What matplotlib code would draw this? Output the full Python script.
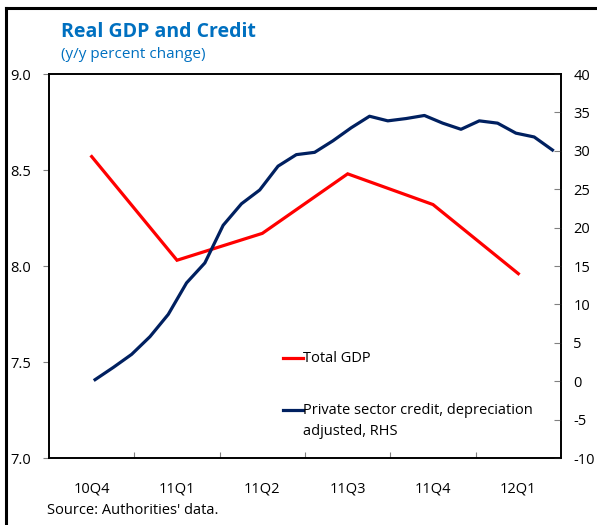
import matplotlib
matplotlib.use("Agg")
import matplotlib.pyplot as plt
import numpy as np
from matplotlib.lines import Line2D

# data
quarters = ["10Q4", "11Q1", "11Q2", "11Q3", "11Q4", "12Q1"]
gdp = [8.57, 8.03, 8.17, 8.48, 8.32, 7.96]
credit = [0.2, 1.8, 3.5, 5.8, 8.7, 12.8, 15.4, 20.3, 23.1, 24.9, 28.0, 29.5, 29.8,
          31.3, 33.0, 34.5, 33.9, 34.2, 34.6, 33.6, 32.8, 33.9, 33.6, 32.3, 31.8, 30.1]

plt.rcParams['font.family'] = ['Open Sans', 'DejaVu Sans']
plt.rcParams['font.size'] = 10.5
plt.rcParams['axes.unicode_minus'] = False

fig = plt.figure(figsize=(5.97, 5.25), dpi=100)
ax = fig.add_axes([49 / 597, 67 / 525, 512 / 597, 384 / 525])
ax2 = ax.twinx()

red = "#FF0000"
navy = "#002060"

xq = np.arange(len(quarters)) + 0.5
ax.plot(xq, gdp, color=red, lw=2.3, solid_joinstyle="miter", zorder=3)

# credit series is on its own (finer) category axis, stretched over the quarters
xc = np.linspace(0.54, 5.9, len(credit))
ax2.plot(xc, credit, color=navy, lw=2.3, zorder=3)

ax.set_xlim(0, 6)
ax.set_ylim(7.0, 9.0)
ax2.set_ylim(-10, 40)

ax.set_yticks(np.arange(7.0, 9.01, 0.5))
ax.set_yticklabels([f"{v:.1f}" for v in np.arange(7.0, 9.01, 0.5)])
ax.tick_params(axis="y", direction="out", length=4, width=0.8, color="#808080", pad=9)

ax2.set_yticks(np.arange(-10, 41, 5))
ax2.tick_params(axis="y", direction="in", length=5, width=0.8, color="#808080", pad=9)

ax.set_xticks(xq)
ax.set_xticklabels(quarters)
ax.set_xticks(np.arange(1, 6), minor=True)
ax.tick_params(axis="x", which="major", length=0, pad=17)
ax.tick_params(axis="x", which="minor", direction="in", length=4, width=0.8, color="#808080")

for a in (ax, ax2):
    for s in a.spines.values():
        s.set_linewidth(1.2)
        s.set_color("black")

# legend drawn by hand so the handle sits on the first line of the second entry
ax.add_line(Line2D([0.457, 0.496], [0.26, 0.26], transform=ax.transAxes, color=red, lw=2.3))
ax.text(0.497, 0.26, "Total GDP", transform=ax.transAxes, va="center", ha="left")
ax.add_line(Line2D([0.457, 0.496], [0.125, 0.125], transform=ax.transAxes, color=navy, lw=2.3))
ax.text(0.497, 0.125, "Private sector credit, depreciation", transform=ax.transAxes,
        va="center", ha="left")
ax.text(0.497, 0.068, "adjusted, RHS", transform=ax.transAxes, va="center", ha="left")

fig.text(61 / 597, 1 - 32 / 525, "Real GDP and Credit", color="#0070C0",
         fontsize=14, fontweight="bold", va="center", ha="left")
fig.text(61 / 597, 1 - 55 / 525, "(y/y percent change)", color="#0070C0",
         fontsize=11, va="center", ha="left")
fig.text(47 / 597, 1 - 510 / 525, "Source: Authorities' data.", fontsize=10.5,
         va="center", ha="left")

# outer frame of the exhibit (cropped on the right and bottom)
fx, fy = 5.5 / 597, 1 - 8 / 525
fig.add_artist(Line2D([fx, fx], [0, fy], transform=fig.transFigure, color="black", lw=2.2))
fig.add_artist(Line2D([fx, 1], [fy, fy], transform=fig.transFigure, color="black", lw=2.2))

fig.savefig("out.png", dpi=100)
